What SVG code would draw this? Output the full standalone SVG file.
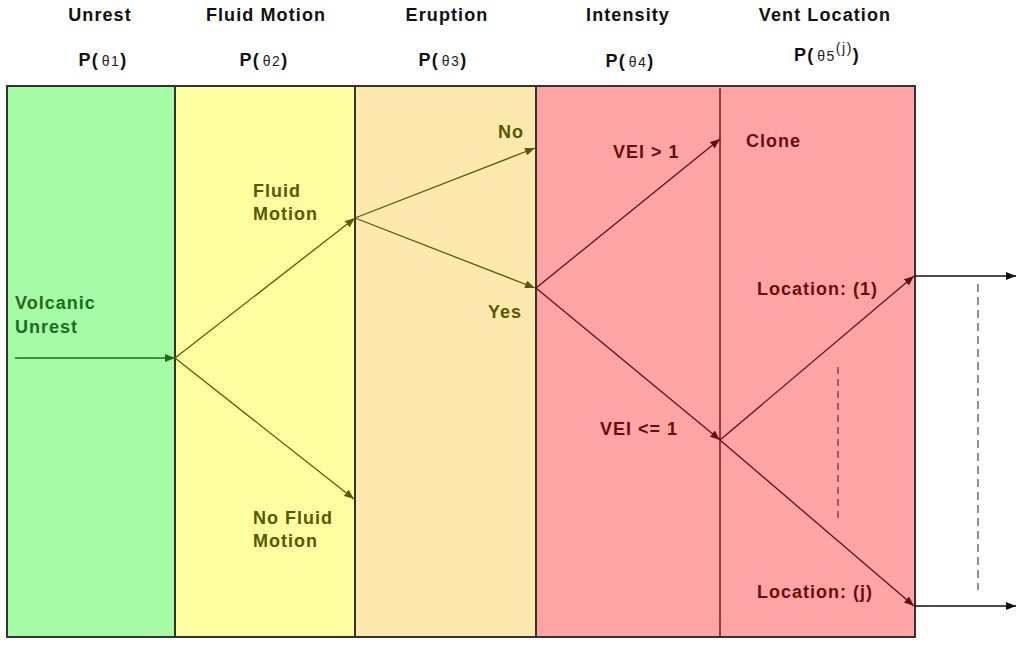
<svg xmlns="http://www.w3.org/2000/svg" width="1024" height="652" viewBox="0 0 1024 652">
<style>
.hdr{font-family:"Liberation Sans",Arial,sans-serif;font-weight:bold;font-size:18px;letter-spacing:1.1px;fill:#111;text-anchor:middle}
.sub{font-weight:normal;font-size:14px;letter-spacing:1.5px;fill:#222}
.lbl{font-family:"Liberation Sans",Arial,sans-serif;font-weight:bold;font-size:18px;letter-spacing:1px}
.g{fill:#1e6a1e}.o{fill:#585800}.r{fill:#6a0c0c}
.panel{stroke:#333;stroke-width:2}
.cg{stroke:#1e6a1e;stroke-width:1.3;fill:none}
.co{stroke:#5a5a05;stroke-width:1.3;fill:none}
.cr{stroke:#6a0c0c;stroke-width:1.3;fill:none}
.ck{stroke:#111;stroke-width:1.3;fill:none}
</style>
<defs>
<marker id="mg" viewBox="0 0 10 8" refX="10" refY="4" markerWidth="10" markerHeight="8" markerUnits="userSpaceOnUse" orient="auto"><path d="M0,0 L10,4 L0,8 Z" fill="#1e6a1e"/></marker>
<marker id="mo" viewBox="0 0 10 8" refX="10" refY="4" markerWidth="10" markerHeight="8" markerUnits="userSpaceOnUse" orient="auto"><path d="M0,0 L10,4 L0,8 Z" fill="#5a5a05"/></marker>
<marker id="mr" viewBox="0 0 10 8" refX="10" refY="4" markerWidth="10" markerHeight="8" markerUnits="userSpaceOnUse" orient="auto"><path d="M0,0 L10,4 L0,8 Z" fill="#6a0c0c"/></marker>
<marker id="mk" viewBox="0 0 10 8" refX="10" refY="4" markerWidth="12" markerHeight="8" markerUnits="userSpaceOnUse" orient="auto"><path d="M0,0 L10,4 L0,8 Z" fill="#111"/></marker>
</defs>
<rect width="1024" height="652" fill="#fff"/>
<g id="headers">
<text class="hdr" x="100" y="21">Unrest</text>
<text class="hdr" x="266" y="21">Fluid Motion</text>
<text class="hdr" x="447" y="21">Eruption</text>
<text class="hdr" x="628" y="21">Intensity</text>
<text class="hdr" x="825" y="21">Vent Location</text>
<text class="hdr" x="103" y="66">P(<tspan class="sub" dx="3">θ1</tspan>)</text>
<text class="hdr" x="264" y="66">P(<tspan class="sub" dx="3">θ2</tspan>)</text>
<text class="hdr" x="443" y="66">P(<tspan class="sub" dx="3">θ3</tspan>)</text>
<text class="hdr" x="630" y="67">P(<tspan class="sub" dx="3">θ4</tspan>)</text>
<text class="hdr" x="827" y="61">P(<tspan class="sub" dx="3">θ5</tspan><tspan class="sub" font-size="12" dy="-8" letter-spacing="0">(j)</tspan><tspan dy="8">)</tspan></text>
</g>
<g id="unrest"><rect class="panel" x="7" y="86" width="168" height="551" fill="#a6fba6"/></g>
<g id="fluid"><rect class="panel" x="175" y="86" width="180" height="551" fill="#ffffa2"/></g>
<g id="eruption"><rect class="panel" x="355" y="86" width="181" height="551" fill="#fde9ae"/></g>
<g id="intensity"><rect class="panel" x="536" y="86" width="379" height="551" fill="#ffa5a5"/>
<line x1="720" y1="88" x2="720" y2="637" stroke="#6a1a1a" stroke-width="1.5"/></g>
<g id="labels">
<text class="lbl g" x="15" y="309">Volcanic</text>
<text class="lbl g" x="15" y="333">Unrest</text>
<text class="lbl o" x="253" y="197">Fluid</text>
<text class="lbl o" x="253" y="220">Motion</text>
<text class="lbl o" x="253" y="524">No Fluid</text>
<text class="lbl o" x="253" y="547">Motion</text>
<text class="lbl o" x="498" y="138">No</text>
<text class="lbl o" x="488" y="318">Yes</text>
<text class="lbl r" x="613" y="158">VEI &gt; 1</text>
<text class="lbl r" x="746" y="147">Clone</text>
<text class="lbl r" x="757" y="295">Location: (1)</text>
<text class="lbl r" x="600" y="435">VEI &lt;= 1</text>
<text class="lbl r" x="757" y="598">Location: (j)</text>
</g>
<g id="connectors">
<line class="cg" x1="15" y1="358" x2="175" y2="358" marker-end="url(#mg)"/>
<line class="co" x1="175" y1="358" x2="355" y2="218" marker-end="url(#mo)"/>
<line class="co" x1="175" y1="358" x2="354" y2="499" marker-end="url(#mo)"/>
<line class="co" x1="355" y1="218" x2="535" y2="148" marker-end="url(#mo)"/>
<line class="co" x1="355" y1="218" x2="535" y2="288" marker-end="url(#mo)"/>
<line class="cr" x1="536" y1="288" x2="720" y2="139" marker-end="url(#mr)"/>
<line class="cr" x1="536" y1="288" x2="720" y2="440" marker-end="url(#mr)"/>
<line class="cr" x1="720" y1="440" x2="914" y2="276" marker-end="url(#mr)"/>
<line class="cr" x1="720" y1="440" x2="914" y2="606" marker-end="url(#mr)"/>
<line class="ck" x1="915" y1="276" x2="1016" y2="276" marker-end="url(#mk)"/>
<line class="ck" x1="915" y1="606" x2="1016" y2="606" marker-end="url(#mk)"/>
<line x1="838" y1="367" x2="838" y2="518" stroke="#7a3030" stroke-width="1.3" stroke-dasharray="7,5"/>
<line x1="978" y1="284" x2="978" y2="590" stroke="#555" stroke-width="1.3" stroke-dasharray="8,5"/>
</g>
</svg>
